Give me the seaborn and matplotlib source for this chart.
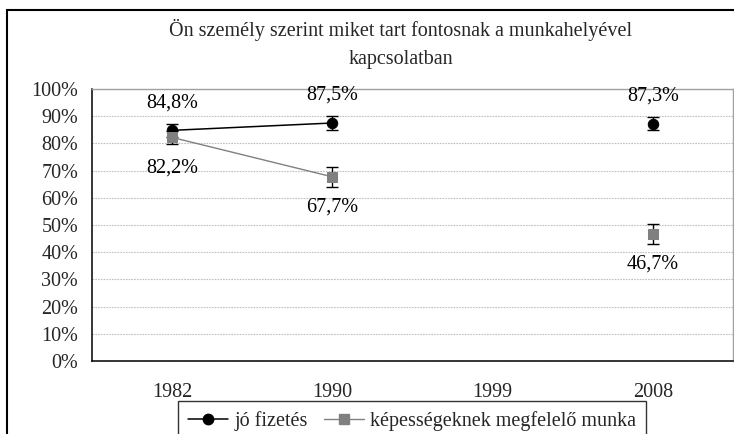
import numpy as np
import pandas as pd
import matplotlib
matplotlib.use("Agg")
import matplotlib.pyplot as plt
from matplotlib.lines import Line2D
from matplotlib.patches import Rectangle
from matplotlib.ticker import MultipleLocator, FuncFormatter
import seaborn as sns

# Survey years and shares (%) for the two job attributes
years = ["1982", "1990", "1999", "2008"]
good_pay = [84.8, 87.5, np.nan, 87.3]
good_pay_err = [2.5, 2.6, np.nan, 2.5]
fitting_work = [82.2, 67.7, np.nan, 46.7]
fitting_work_err = [2.3, 3.8, np.nan, 3.7]
series_names = ["jó fizetés", "képességeknek megfelelő munka"]
title = "Ön személy szerint miket tart fontosnak a munkahelyével\nkapcsolatban"

FS = 14.5

sns.set_theme(style="white")
plt.rcParams["font.family"] = ["Liberation Serif", "DejaVu Serif"]
plt.rcParams["font.size"] = FS

# Long-form table; a year without data splits the line into separate segments
rows = []
for name, vals, errs in [(series_names[0], good_pay, good_pay_err),
                         (series_names[1], fitting_work, fitting_work_err)]:
    seg = 0
    for i, (y, v, e) in enumerate(zip(years, vals, errs)):
        if np.isnan(v):
            seg += 1
            continue
        rows.append({"series": name, "pos": i, "year": y, "value": v, "err": e, "segment": seg})
df = pd.DataFrame(rows)

fig = plt.figure(figsize=(7.34, 4.34), dpi=100)
ax = fig.add_axes([92 / 734, 1 - 361 / 434, (733 - 92) / 734, (361 - 89) / 434])

styles = {
    series_names[0]: dict(color="black", marker="o", ms=7.5, lw=1.1, off=20),
    series_names[1]: dict(color="#808080", marker="s", ms=6.5, lw=1.0, off=-22),
}

for name, st in styles.items():
    sub = df[df["series"] == name]
    ax.errorbar(sub["pos"], sub["value"], yerr=sub["err"], fmt="none",
                ecolor="black", elinewidth=1.0, capsize=4.5, capthick=1.0, zorder=2)
    sns.lineplot(data=sub, x="pos", y="value", units="segment", estimator=None,
                 color=st["color"], marker=st["marker"], markersize=st["ms"],
                 markeredgecolor=st["color"], linewidth=st["lw"], ax=ax,
                 legend=False, zorder=3)
    for _, r in sub.iterrows():
        label = f"{r['value']:.1f}".replace(".", ",") + "%"
        ax.annotate(label, (r["pos"], r["value"]),
                    xytext=(0, st["off"]), textcoords="offset points",
                    ha="center", va="center", fontsize=FS, color="black")

ax.set_xlim(-0.5, len(years) - 0.5)
ax.set_ylim(0, 100)
ax.set_xlabel("")
ax.set_ylabel("")

# Category boundaries carry the tick marks, category centres carry the labels
ax.set_xticks(np.arange(len(years) + 1) - 0.5)
ax.set_xticklabels([])
ax.set_xticks(np.arange(len(years)), minor=True)
ax.set_xticklabels(years, minor=True)
ax.tick_params(axis="x", which="major", direction="out", length=6, width=1, color="black")
ax.tick_params(axis="x", which="minor", length=0, pad=16, labelsize=FS)

ax.yaxis.set_major_locator(MultipleLocator(10))
ax.yaxis.set_major_formatter(FuncFormatter(lambda v, p: f"{v:.0f}%"))
ax.tick_params(axis="y", direction="out", length=6, width=1, color="black", pad=4, labelsize=FS)

ax.grid(axis="y", color="#c0c0c0", linestyle=(0, (1.5, 1)), linewidth=0.8)
ax.grid(axis="x", visible=False)
ax.set_axisbelow(True)

for side in ["left", "bottom"]:
    ax.spines[side].set_color("black")
    ax.spines[side].set_linewidth(1.1)
for side in ["top", "right"]:
    ax.spines[side].set_color("#a0a0a0")
    ax.spines[side].set_linewidth(1.0)
    ax.spines[side].set_visible(True)

fig.text(401 / 734, 1 - 44 / 434, title, ha="center", va="center",
         fontsize=FS, linespacing=1.7)

handles = [
    Line2D([], [], color="black", marker="o", ms=7.5, lw=1.1),
    Line2D([], [], color="#808080", marker="s", ms=6.5, lw=1.0),
]
leg = fig.legend(handles, series_names, loc="upper center",
                 bbox_to_anchor=(412 / 734, 1 - 401 / 434), ncol=2,
                 frameon=True, fancybox=False, edgecolor="black",
                 handlelength=2.0, handletextpad=0.3, columnspacing=0.8,
                 borderpad=0.5, borderaxespad=0.0, fontsize=FS)
leg.get_frame().set_linewidth(1.0)

# Outer chart frame
fig.add_artist(Rectangle((7 / 734, -0.2), 1.0, 1.2 - 10 / 434,
                         transform=fig.transFigure, fill=False,
                         edgecolor="black", linewidth=1.5))

fig.savefig("out.png", dpi=100)
